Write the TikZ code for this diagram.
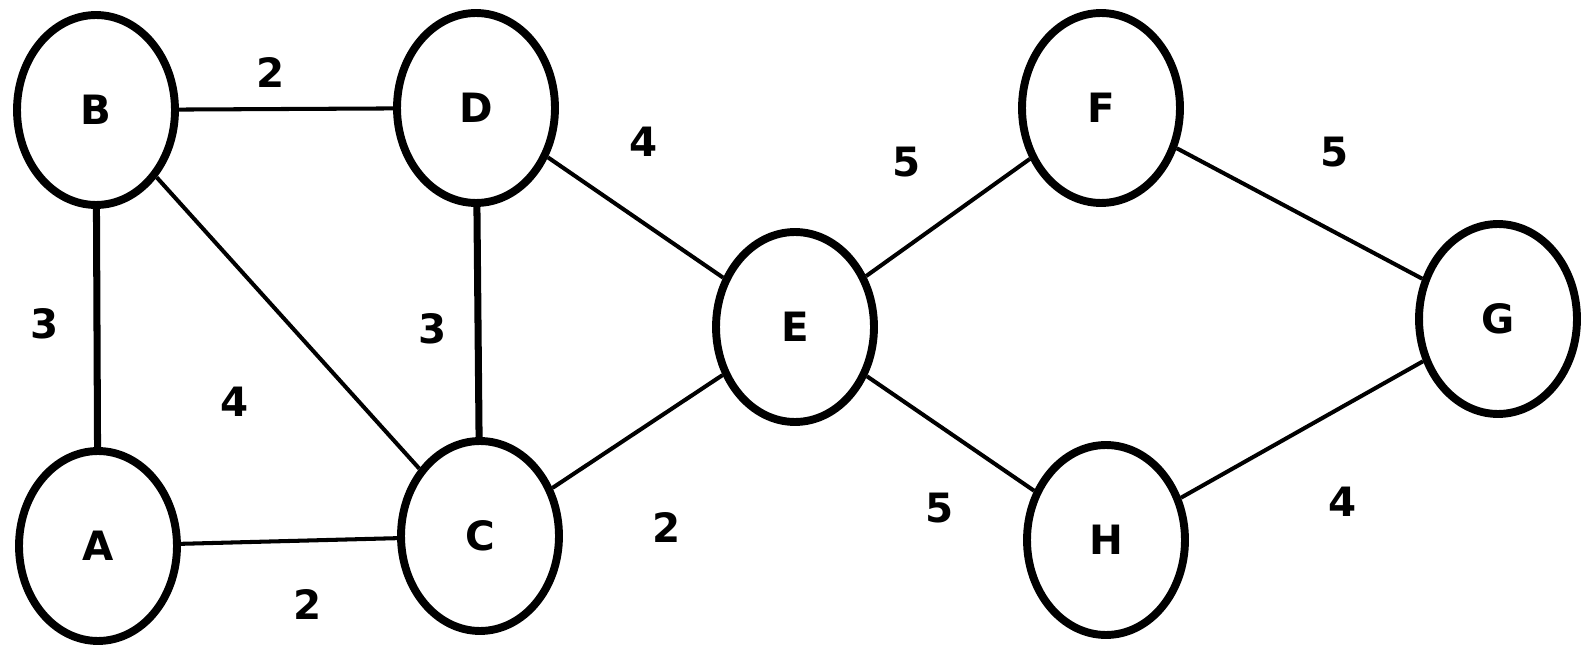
\documentclass[tikz,border=0pt]{standalone}
\usepackage{fontspec}
\setmainfont{DejaVu Sans}
\usepackage{tikz}
\usetikzlibrary{shapes,shapes.geometric,positioning}

\begin{document}
\begin{tikzpicture}[x=0.02cm,y=-0.02cm,
    vertex/.style={draw,ellipse,line width=4.5pt,inner sep=0pt,
      minimum width=3.16cm,minimum height=3.8cm,
      font=\fontsize{23}{23}\selectfont\bfseries},
    wt/.style={font=\fontsize{23}{23}\selectfont\bfseries},
    edge/.style={line width=2.3pt},
    heavy/.style={line width=4pt}]
    \useasboundingbox (0,0) rectangle (1585,651);

    % vertices
    \node[vertex] (B) at (96, 110) {B};
    \node[vertex] (D) at (476, 108) {D};
    \node[vertex] (A) at (98, 546) {A};
    \node[vertex] (C) at (480, 536) {C};
    \node[vertex] (E) at (795, 327) {E};
    \node[vertex] (F) at (1101, 108) {F};
    \node[vertex] (G) at (1498, 319) {G};
    \node[vertex] (H) at (1106, 540) {H};

    % edges
    \draw[edge] (B) -- (D);
    \draw[heavy] (B) -- (A);
    \draw[edge] (B) -- (C);
    \draw[heavy] (D) -- (C);
    \draw[edge] (D) -- (E);
    \draw[edge] (A) -- (C);
    \draw[edge] (C) -- (E);
    \draw[edge] (E) -- (F);
    \draw[edge] (E) -- (H);
    \draw[edge] (F) -- (G);
    \draw[edge] (H) -- (G);

    % weights
    \node[wt] (wBD) at (271, 73) {2};
    \node[wt] (wBA) at (45, 324) {3};
    \node[wt] (wBC) at (235, 402) {4};
    \node[wt] (wDC) at (433, 329) {3};
    \node[wt] (wDE) at (644, 142) {4};
    \node[wt] (wAC) at (308, 605) {2};
    \node[wt] (wCE) at (667, 528) {2};
    \node[wt] (wEF) at (907, 162) {5};
    \node[wt] (wEH) at (940, 508) {5};
    \node[wt] (wFG) at (1335, 152) {5};
    \node[wt] (wHG) at (1343, 502) {4};
\end{tikzpicture}
\end{document}
